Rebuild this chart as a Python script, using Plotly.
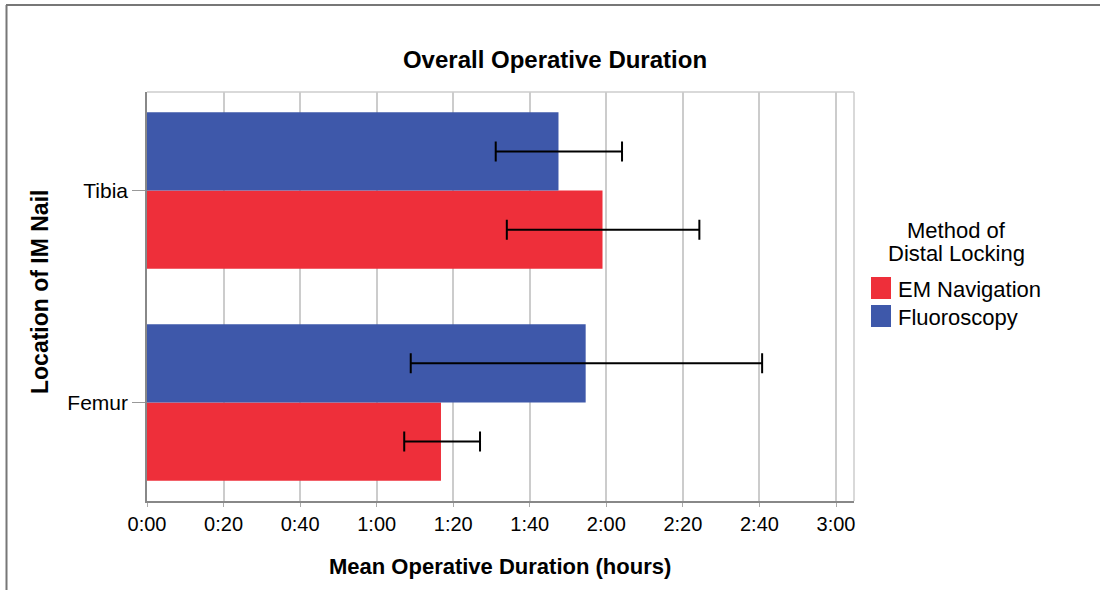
import plotly.graph_objects as go

# ---- data (minutes) ----
locations = ["Femur", "Tibia"]
methods = ["EM Navigation", "Fluoroscopy"]
em_mean = [76.8, 119.0]
em_low = [67.2, 94.0]
em_high = [87.0, 144.3]
fluoro_mean = [114.6, 107.5]
fluoro_low = [68.9, 91.1]
fluoro_high = [160.7, 124.1]

tick_minutes = [0, 20, 40, 60, 80, 100, 120, 140, 160, 180]
tick_labels = ["0:00", "0:20", "0:40", "1:00", "1:20", "1:40", "2:00", "2:20", "2:40", "3:00"]

RED = "#ee2f3a"
BLUE = "#3e58aa"
FONT = "Liberation Sans"

W, H = 1100, 590
L, R, T, B = 147, 246, 92, 89
PW, PH = W - L - R, H - T - B


def px(x):
    return (x - L) / PW


def py(y):
    return (H - B - y) / PH


def bar_trace(name, color, mean, low, high):
    return go.Bar(
        name=name,
        y=locations,
        x=mean,
        orientation="h",
        marker=dict(color=color, line=dict(width=0)),
        error_x=dict(
            type="data",
            symmetric=False,
            array=[h - m for h, m in zip(high, mean)],
            arrayminus=[m - lo for m, lo in zip(mean, low)],
            color="black",
            thickness=2,
            width=10,
        ),
        showlegend=False,
    )


fig = go.Figure()
fig.add_trace(bar_trace(methods[0], RED, em_mean, em_low, em_high))
fig.add_trace(bar_trace(methods[1], BLUE, fluoro_mean, fluoro_low, fluoro_high))

fig.update_layout(
    width=W,
    height=H,
    margin=dict(l=L, r=R, t=T, b=B),
    paper_bgcolor="white",
    plot_bgcolor="white",
    barmode="group",
    bargap=0.262,
    bargroupgap=0,
    font=dict(family=FONT, color="black"),
    title=dict(
        text="<b>Overall Operative Duration</b>",
        x=555 / W, xanchor="center",
        y=1 - 60 / H, yanchor="middle",
        font=dict(size=24, family=FONT, color="black"),
    ),
    xaxis=dict(
        range=[0, 184.7],
        tickvals=tick_minutes,
        ticktext=tick_labels,
        tickfont=dict(size=20, family=FONT, color="black"),
        showgrid=True,
        gridcolor="#cccccc",
        gridwidth=1.5,
        showline=True,
        linecolor="#888888",
        linewidth=1.5,
        ticks="outside",
        ticklen=4,
        tickcolor="#aaaaaa",
        zeroline=False,
    ),
    yaxis=dict(
        categoryorder="array",
        categoryarray=locations,
        range=[-0.465, 1.465],
        tickfont=dict(size=21, family=FONT, color="black"),
        showgrid=False,
        showline=True,
        linecolor="#888888",
        linewidth=1.5,
        ticks="outside",
        ticklen=13,
        tickcolor="#999999",
        zeroline=False,
    ),
)

shapes = [
    # outer frame (top and left edges)
    dict(type="line", xref="paper", yref="paper",
         x0=px(6), x1=px(1100), y0=py(5), y1=py(5),
         line=dict(color="#777777", width=2)),
    dict(type="line", xref="paper", yref="paper",
         x0=px(6.5), x1=px(6.5), y0=py(5), y1=py(590),
         line=dict(color="#777777", width=2)),
    # plot frame top and right
    dict(type="line", xref="paper", yref="paper",
         x0=0, x1=1, y0=1, y1=1, line=dict(color="#cccccc", width=1.5)),
    dict(type="line", xref="paper", yref="paper",
         x0=1, x1=1, y0=0, y1=1, line=dict(color="#cccccc", width=1.5)),
    # legend swatches
    dict(type="rect", xref="paper", yref="paper",
         x0=px(871), x1=px(891), y0=py(277), y1=py(299),
         fillcolor=RED, line=dict(width=0)),
    dict(type="rect", xref="paper", yref="paper",
         x0=px(871), x1=px(891), y0=py(305), y1=py(327),
         fillcolor=BLUE, line=dict(width=0)),
]


def note(text, x, y, size, anchor="center", angle=0):
    return dict(text=text, xref="paper", yref="paper", x=px(x), y=py(y),
                xanchor=anchor, yanchor="middle", textangle=angle,
                showarrow=False, font=dict(size=size, family=FONT, color="black"))


annotations = [
    # axis titles
    note("<b>Mean Operative Duration (hours)</b>", 500, 566, 22),
    note("<b>Location of IM Nail</b>", 40, 292, 23, angle=-90),
    # legend
    note("Method of", 956, 230, 22),
    note("Distal Locking", 956, 253, 22),
    note(methods[0], 896, 289, 22, anchor="left"),
    note(methods[1], 896, 317, 22, anchor="left"),
]

fig.update_layout(shapes=shapes, annotations=annotations)

fig.write_html("out.html")
